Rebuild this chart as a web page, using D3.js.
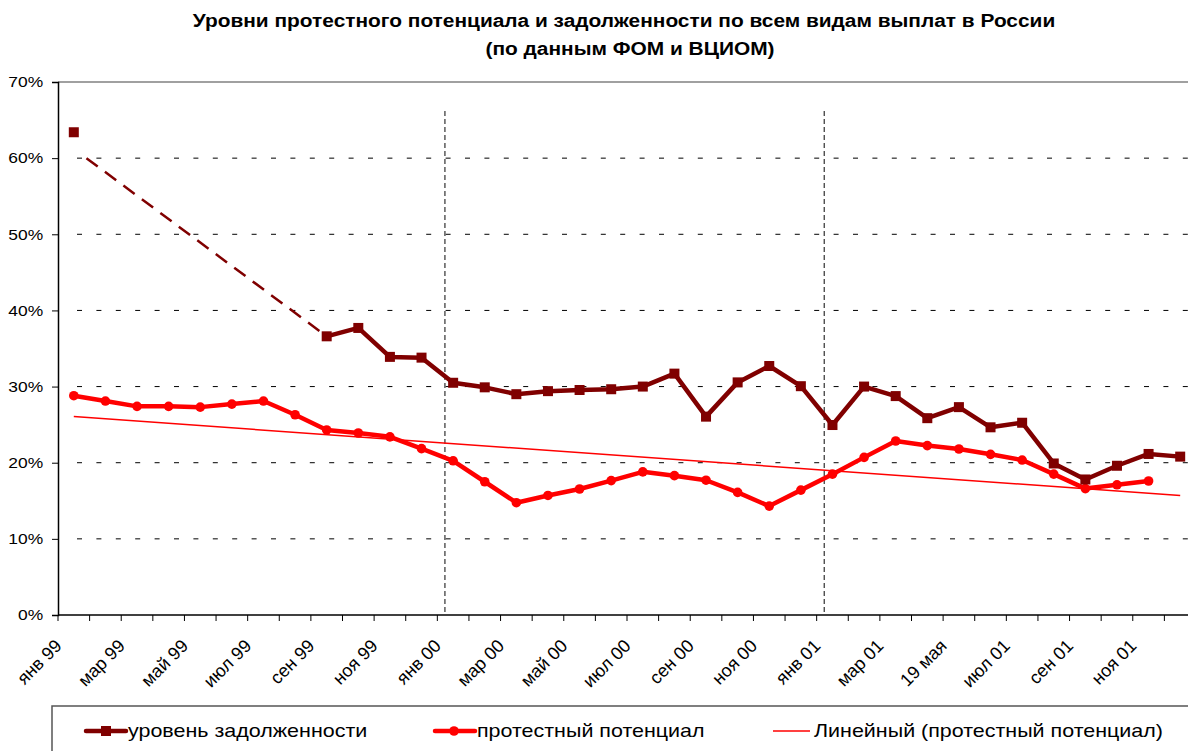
<html lang="ru"><head>
<meta http-equiv="Content-Type" content="text/html; charset=UTF-8">
<title>Уровни протестного потенциала</title>
<script type="text/javascript" src="https://cdn.jsdelivr.net/npm/d3@7"></script>
<style type="text/css">
body { margin: 0; background: #fff; }
text { font-family: Arial, "Liberation Sans", sans-serif; fill: #000; }
</style>
</head>
<body>
<script type="text/javascript">

var width = 1188;
var height = 751;

// months Jan 99 .. Dec 01
var monthNames = ["янв", "фев", "мар", "апр", "май", "июн", "июл", "авг", "сен", "окт", "ноя", "дек"];
var years = ["99", "00", "01"];
var months = [];
years.forEach(function(yr){
  monthNames.forEach(function(m){ months.push(m + " " + yr); });
});

// labels shown under every second month
var tickLabels = ["янв 99", "мар 99", "май 99", "июл 99", "сен 99", "ноя 99",
                  "янв 00", "мар 00", "май 00", "июл 00", "сен 00", "ноя 00",
                  "янв 01", "мар 01", "19 мая", "июл 01", "сен 01", "ноя 01"];

// уровень задолженности, %
var debt = [63.4, null, null, null, null, null, null, null, 36.6, 37.7, 33.9, 33.8,
            30.5, 29.9, 29.0, 29.4, 29.55, 29.65, 30.0, 31.7, 26.05, 30.55, 32.7, 30.05,
            24.95, 30.0, 28.75, 25.85, 27.3, 24.65, 25.25, 19.9, 17.8, 19.6, 21.15, 20.8];

// протестный потенциал, %
var protest = [28.8, 28.1, 27.4, 27.4, 27.3, 27.7, 28.1, 26.3, 24.3, 23.9, 23.4, 21.85,
               20.25, 17.5, 14.75, 15.7, 16.55, 17.65, 18.8, 18.3, 17.7, 16.1, 14.3, 16.4,
               18.5, 20.7, 22.85, 22.25, 21.8, 21.1, 20.35, 18.5, 16.6, 17.1, 17.6, null];

// dashed connector across the gap in the debt series (month position, value)
var gapLine = [{pos: 0.9, v: 60}, {pos: 8.5, v: 36.6}];

// year boundaries marked with vertical dashed lines
var dividers = ["янв 00", "янв 01"];

var yTicks = [0, 10, 20, 30, 40, 50, 60, 70];

var legendItems = ["уровень задолженности", "протестный потенциал", "Линейный (протестный потенциал)"];

var darkRed = "#800000";
var red = "#ff0000";

// the original picture has its text a bit wider than normal Arial
var stretch = 1.16;

var plot = {left: 58, right: 1196, top: 82, bottom: 615};

var svg = d3.select("body").append("svg")
            .attr("width", width)
            .attr("height", height);

var x = d3.scaleBand().domain(months).range([plot.left, plot.right]).padding(0);
var xc = function(i){ return x(months[i]) + x.bandwidth() / 2; };
var xpos = d3.scaleLinear().domain([0, months.length]).range([plot.left, plot.right]);
var y = d3.scaleLinear().domain([0, 70]).range([plot.bottom, plot.top]);

// title
svg.append("text")
   .attr("transform", "translate(624,27) scale(" + stretch + ",1)")
   .attr("text-anchor", "middle")
   .attr("font-size", 18).attr("font-weight", "bold")
   .text("Уровни протестного потенциала и задолженности по всем видам выплат в России");
svg.append("text")
   .attr("transform", "translate(630,55) scale(" + stretch + ",1)")
   .attr("text-anchor", "middle")
   .attr("font-size", 18).attr("font-weight", "bold")
   .text("(по данным ФОМ и ВЦИОМ)");

// grid lines
svg.append("g").selectAll("line")
   .data(yTicks.filter(function(d){ return d > 0 && d < 70; }))
   .enter().append("line")
   .attr("x1", plot.left + 19).attr("x2", plot.right)
   .attr("y1", function(d){ return y(d); })
   .attr("y2", function(d){ return y(d); })
   .attr("stroke", "#000")
   .attr("stroke-width", 1)
   .attr("stroke-dasharray", "5,14.4");

// top border of plot area
svg.append("line")
   .attr("x1", plot.left).attr("x2", plot.right)
   .attr("y1", y(70)).attr("y2", y(70))
   .attr("stroke", "#a0a0a0").attr("stroke-width", 2);

// year dividers
svg.append("g").selectAll("line")
   .data(dividers).enter().append("line")
   .attr("x1", function(d){ return x(d) + x.bandwidth() * 0.24; })
   .attr("x2", function(d){ return x(d) + x.bandwidth() * 0.24; })
   .attr("y1", y(66.2)).attr("y2", plot.bottom)
   .attr("stroke", "#404040")
   .attr("stroke-width", 1.3)
   .attr("stroke-dasharray", "5,3");

// y axis
var yAxis = svg.append("g")
   .attr("transform", "translate(" + plot.left + ",0)")
   .call(d3.axisLeft(y).tickValues(yTicks).tickSize(6).tickPadding(6.8)
           .tickFormat(function(d){ return d + "%"; }));
yAxis.select(".domain").attr("stroke", "#000").attr("stroke-width", 1.5);
yAxis.selectAll(".tick line").attr("stroke", "#000");
yAxis.selectAll("text")
   .attr("font-size", 15).attr("font-family", null).attr("fill", "#000")
   .attr("transform", "scale(" + stretch + ",1)");

// x axis: tick marks on every month boundary
var xAxis = svg.append("g")
   .attr("transform", "translate(0," + plot.bottom + ")");
xAxis.append("line")
   .attr("x1", plot.left).attr("x2", plot.right)
   .attr("stroke", "#000").attr("stroke-width", 1.5);
xAxis.selectAll(".tk")
   .data(d3.range(months.length + 1)).enter().append("line")
   .attr("class", "tk")
   .attr("x1", function(i){ return xpos(i); })
   .attr("x2", function(i){ return xpos(i); })
   .attr("y1", 0).attr("y2", 6)
   .attr("stroke", "#000").attr("stroke-width", 1);
xAxis.selectAll(".lbl")
   .data(tickLabels).enter().append("text")
   .attr("class", "lbl")
   .attr("text-anchor", "end")
   .attr("font-size", 18)
   .attr("transform", function(d, i){
     return "translate(" + (xc(i * 2) - 11) + ",32) rotate(-45)";
   })
   .text(function(d){ return d; });

// trend line (least squares on the protest series)
var pts = protest.map(function(v, i){ return [i, v]; }).filter(function(p){ return p[1] != null; });
var mx = d3.mean(pts, function(p){ return p[0]; });
var my = d3.mean(pts, function(p){ return p[1]; });
var slope = d3.sum(pts, function(p){ return (p[0] - mx) * (p[1] - my); }) /
            d3.sum(pts, function(p){ return (p[0] - mx) * (p[0] - mx); });
var trend = [0, months.length - 1].map(function(i){ return [i, my + slope * (i - mx)]; });

svg.append("path")
   .datum(trend)
   .attr("fill", "none")
   .attr("stroke", red)
   .attr("stroke-width", 1.5)
   .attr("d", d3.line().x(function(d){ return xc(d[0]); }).y(function(d){ return y(d[1]); }));

// dashed connector
svg.append("path")
   .datum(gapLine)
   .attr("fill", "none")
   .attr("stroke", darkRed)
   .attr("stroke-width", 2.5)
   .attr("stroke-dasharray", "14,9")
   .attr("d", d3.line().x(function(d){ return xpos(d.pos); }).y(function(d){ return y(d.v); }));

var line = d3.line()
   .defined(function(d){ return d != null; })
   .x(function(d, i){ return xc(i); })
   .y(function(d){ return y(d); });

// protest series
svg.append("path")
   .datum(protest)
   .attr("fill", "none")
   .attr("stroke", red)
   .attr("stroke-width", 4.5)
   .attr("stroke-linejoin", "round")
   .attr("d", line);
svg.append("g").selectAll("circle")
   .data(protest.map(function(v, i){ return {i: i, v: v}; }).filter(function(d){ return d.v != null; }))
   .enter().append("circle")
   .attr("cx", function(d){ return xc(d.i); })
   .attr("cy", function(d){ return y(d.v); })
   .attr("r", 4.8)
   .attr("fill", red);

// debt series
svg.append("path")
   .datum(debt)
   .attr("fill", "none")
   .attr("stroke", darkRed)
   .attr("stroke-width", 4.5)
   .attr("stroke-linejoin", "round")
   .attr("d", line);
svg.append("g").selectAll("rect")
   .data(debt.map(function(v, i){ return {i: i, v: v}; }).filter(function(d){ return d.v != null; }))
   .enter().append("rect")
   .attr("x", function(d){ return xc(d.i) - 5; })
   .attr("y", function(d){ return y(d.v) - 5; })
   .attr("width", 10).attr("height", 10)
   .attr("fill", darkRed);

// legend
var legend = svg.append("g");
legend.append("rect")
   .attr("x", 52).attr("y", 706)
   .attr("width", 1160).attr("height", 80)
   .attr("fill", "#fff")
   .attr("stroke", "#555").attr("stroke-width", 1.5);

var legendX = [86, 435, 773];
legendItems.forEach(function(name, i){
  var g = legend.append("g").attr("transform", "translate(" + legendX[i] + ",731)");
  g.append("line")
   .attr("x1", 0).attr("x2", i == 2 ? 37 : 40)
   .attr("stroke", i == 0 ? darkRed : red)
   .attr("stroke-width", i == 2 ? 1.5 : 4.5)
   .attr("stroke-linecap", i == 2 ? "butt" : "round");
  if (i == 0) {
    g.append("rect").attr("x", 15).attr("y", -5).attr("width", 10).attr("height", 10).attr("fill", darkRed);
  } else if (i == 1) {
    g.append("circle").attr("cx", 19).attr("r", 4.8).attr("fill", red);
  }
  g.append("text")
   .attr("transform", "translate(" + (i == 2 ? 41 : 42) + ",6) scale(1.13,1)")
   .attr("font-size", 19)
   .text(name);
});

</script>
</body></html>
